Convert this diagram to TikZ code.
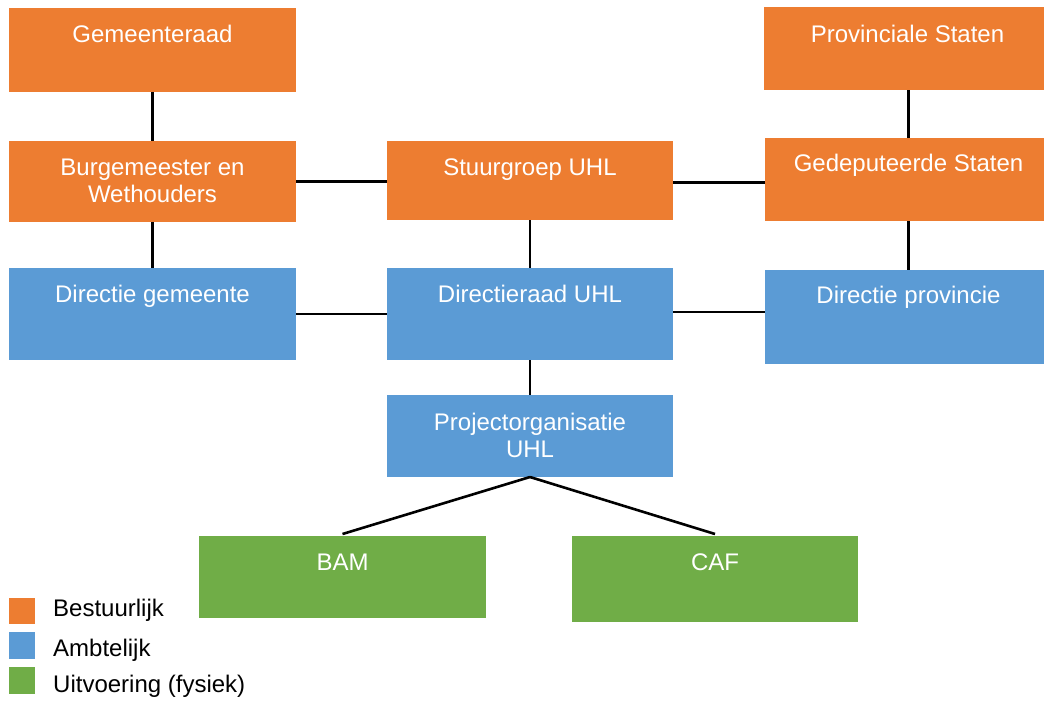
\documentclass[tikz,border=0pt]{standalone}
\usepackage{fontspec}
\setmainfont{Liberation Sans}
\definecolor{bestuur}{HTML}{ED7D31}
\definecolor{ambt}{HTML}{5B9BD5}
\definecolor{uitv}{HTML}{70AD47}
\tikzset{
  box/.style={rectangle, inner sep=0pt, outer sep=0pt, anchor=north west},
  lbl/.style={anchor=base, inner sep=0pt, text=white, align=center,
    font=\fontsize{24pt}{27pt}\selectfont},
  legtxt/.style={anchor=base west, inner sep=0pt, text=black,
    font=\fontsize{24pt}{27pt}\selectfont},
  conn/.style={draw=black, line width=2.6pt},
}
\newcommand{\orgbox}[8]{% name, color, x, y, w, h, text, baseline offset
  \node[box, fill=#2, minimum width=#5pt, minimum height=#6pt] (#1) at (#3,#4) {};
  \node[lbl] (#1-t) at ([yshift=-#8pt]#1.north) {#7};
}
\begin{document}
\begin{tikzpicture}[x=1pt,y=-1pt]
\useasboundingbox (0,0) rectangle (1044,702);
\clip (0,0) rectangle (1044,702);
\fill[white] (0,0) rectangle (1044,702);
% boxes
\orgbox{gem}{bestuur}{9}{8}{287}{84}{Gemeenteraad}{34}
\orgbox{burg}{bestuur}{9}{141}{287}{81}{Burgemeester en\\Wethouders}{61}
\orgbox{pst}{bestuur}{764}{7}{287}{83}{Provinciale Staten}{35}
\orgbox{ged}{bestuur}{765}{138}{287}{83}{Gedeputeerde Staten}{33}
\orgbox{stuur}{bestuur}{387}{141}{286}{79}{Stuurgroep UHL}{34}
\orgbox{dirgem}{ambt}{9}{268}{287}{92}{Directie gemeente}{34}
\orgbox{dirraad}{ambt}{387}{268}{286}{92}{Directieraad UHL}{34}
\orgbox{dirprov}{ambt}{765}{270}{287}{94}{Directie provincie}{33}
\orgbox{proj}{ambt}{387}{395}{286}{82}{Projectorganisatie\\UHL}{62}
\orgbox{bam}{uitv}{199}{536}{287}{82}{BAM}{34}
\orgbox{caf}{uitv}{572}{536}{286}{86}{CAF}{34}
% connectors
\draw[conn] (gem.south) -- (burg.north);
\draw[conn] (ged.north) -- (ged.north |- pst.south);
\draw[conn] (burg.south) -- (dirgem.north);
\draw[conn] (ged.south) -- (dirprov.north);
\draw[conn] (stuur.south) -- (dirraad.north);
\draw[conn] (dirraad.south) -- (proj.north);
\draw[conn] (burg.east) -- (burg.east -| stuur.west);
\draw[conn] ([yshift=-2pt]stuur.east) -- ([yshift=-2pt]stuur.east -| ged.west);
\draw[conn] (dirgem.east) -- (dirgem.east -| dirraad.west);
\draw[conn] ([yshift=2pt]dirraad.east) -- ([yshift=2pt]dirraad.east -| dirprov.west);
\draw[conn] (proj.south) -- ([yshift=2pt]bam.north);
\draw[conn] (proj.south) -- ([yshift=2pt]caf.north);
% legend
\node[box, fill=bestuur, minimum width=26pt, minimum height=26pt] (lg1) at (9,598) {};
\node[box, fill=ambt, minimum width=26pt, minimum height=27pt] (lg2) at (9,632) {};
\node[box, fill=uitv, minimum width=26pt, minimum height=27pt] (lg3) at (9,667) {};
\node[legtxt] (lg1-t) at (53,616) {Bestuurlijk};
\node[legtxt] (lg2-t) at (53,656) {Ambtelijk};
\node[legtxt] (lg3-t) at (53,692) {Uitvoering (fysiek)};
\end{tikzpicture}
\end{document}
